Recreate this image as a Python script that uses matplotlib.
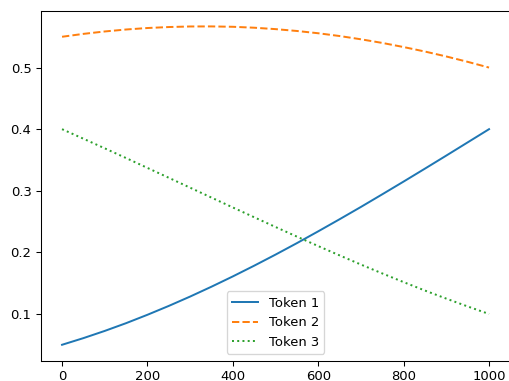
import matplotlib
matplotlib.use("Agg")
import matplotlib.pyplot as plt

# steps and token probabilities
steps = [0, 50, 100, 150, 200, 250, 300, 350, 400, 450, 500,
         550, 600, 650, 700, 750, 800, 850, 900, 950, 1000]
token1 = [0.0500, 0.0608, 0.0725, 0.0851, 0.0987, 0.1131, 0.1283, 0.1443, 0.1610, 0.1784, 0.1964,
          0.2150, 0.2342, 0.2538, 0.2738, 0.2943, 0.3150, 0.3360, 0.3572, 0.3786, 0.4000]
token2 = [0.5500, 0.5547, 0.5586, 0.5618, 0.5642, 0.5658, 0.5667, 0.5668, 0.5662, 0.5647, 0.5624,
          0.5594, 0.5557, 0.5512, 0.5459, 0.5400, 0.5333, 0.5260, 0.5180, 0.5093, 0.5000]
token3 = [0.4000, 0.3845, 0.3689, 0.3531, 0.3371, 0.3211, 0.3050, 0.2889, 0.2729, 0.2570, 0.2412,
          0.2256, 0.2102, 0.1951, 0.1802, 0.1658, 0.1517, 0.1380, 0.1249, 0.1122, 0.1000]

labels = ["Token 1", "Token 2", "Token 3"]
styles = ["-", "--", ":"]

dpi = 94.7
fig = plt.figure(figsize=(509 / dpi, 381 / dpi), dpi=dpi)
ax = fig.add_axes([40.7 / 509, 20.3 / 381, 469.7 / 509, 350.2 / 381])

for ys, lab, ls in zip([token1, token2, token3], labels, styles):
    ax.plot(steps, ys, ls, label=lab)

# the reference is cropped just before the right spine
ax.spines["right"].set_visible(False)
ax.legend(loc="lower center")

fig.savefig("out.png", dpi=dpi)
